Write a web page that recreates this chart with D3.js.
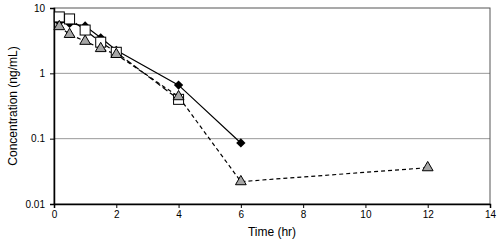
<!DOCTYPE html>
<html>
<head>
<meta charset="utf-8">
<script src="https://cdn.jsdelivr.net/npm/d3@7"></script>
<style>
body { margin: 0; background: #fff; }
text { font-family: "Liberation Sans", Arial, sans-serif; fill: #000; }
</style>
</head>
<body>
<svg id="chart" width="500" height="245"></svg>
<script>
// data
var diamondTimes = [0.17, 0.5, 1, 1.5, 2, 4, 6];
var diamondConc  = [6.1, 5.8, 5.3, 3.5, 2.25, 0.66, 0.086];
var squareTimes  = [0.17, 0.5, 1, 1.5, 2, 4];
var squareConc   = [7.3, 6.8, 4.6, 3.0, 2.1, 0.40];
var triTimes     = [0.17, 0.5, 1, 1.5, 2, 4, 6, 12];
var triConc      = [5.2, 3.95, 3.1, 2.4, 1.95, 0.44, 0.022, 0.036];
var xTicks = [0, 2, 4, 6, 8, 10, 12, 14];
var yTicks = [0.01, 0.1, 1, 10];

var margin = { left: 54, top: 8, right: 10, bottom: 41 };
var width = 500 - margin.left - margin.right;
var height = 245 - margin.top - margin.bottom;

var svg = d3.select("#chart");
var g = svg.append("g")
	.attr("transform", "translate(" + margin.left + "," + margin.top + ")");

var x = d3.scaleLinear().domain([0, 14]).range([0, width]);
var y = d3.scaleLog().domain([0.01, 10]).range([height, 0]);

// gridlines
g.selectAll("line.grid")
	.data([0.1, 1])
	.enter().append("line")
	.attr("class", "grid")
	.attr("x1", 0).attr("x2", width)
	.attr("y1", function(d) { return y(d) })
	.attr("y2", function(d) { return y(d) })
	.attr("stroke", "#999")
	.attr("stroke-width", 1);

// plot frame
g.append("rect")
	.attr("x", 0).attr("y", 0)
	.attr("width", width).attr("height", height)
	.attr("fill", "none")
	.attr("stroke", "#555")
	.attr("stroke-width", 1);

var yAxis = d3.axisLeft(y).tickValues(yTicks).tickFormat(function(d) { return String(d) }).tickSize(4).tickPadding(5);
var xAxis = d3.axisBottom(x).tickValues(xTicks).tickFormat(d3.format("d")).tickSize(4).tickPadding(3);

var gy = g.append("g").call(yAxis);
var gx = g.append("g").attr("transform", "translate(0," + height + ")").call(xAxis);
[gy, gx].forEach(function(a) {
	a.selectAll(".domain").attr("stroke", "#000").attr("stroke-width", 1.5);
	a.selectAll(".tick line").attr("stroke", "#000");
	a.selectAll(".tick text").attr("font-size", 10);
});

function series(times, conc) {
	return times.map(function(t, i) { return [t, conc[i]] });
}

var line = d3.line()
	.x(function(d) { return x(d[0]) })
	.y(function(d) { return y(d[1]) });

var diamonds = series(diamondTimes, diamondConc);
var squares = series(squareTimes, squareConc);
var tris = series(triTimes, triConc);

g.append("path").datum(diamonds).attr("d", line)
	.attr("fill", "none").attr("stroke", "#000").attr("stroke-width", 1.2);
g.append("path").datum(squares).attr("d", line)
	.attr("fill", "none").attr("stroke", "#000").attr("stroke-width", 1.2)
	.attr("stroke-dasharray", "6,3");
g.append("path").datum(tris).attr("d", line)
	.attr("fill", "none").attr("stroke", "#000").attr("stroke-width", 1.2)
	.attr("stroke-dasharray", "4,3");

g.selectAll("path.diamond")
	.data(diamonds).enter().append("path")
	.attr("class", "diamond")
	.attr("d", d3.symbol().type(d3.symbolDiamond2).size(55))
	.attr("transform", function(d) { return "translate(" + x(d[0]) + "," + y(d[1]) + ")" })
	.attr("fill", "#000");

g.selectAll("rect.square")
	.data(squares).enter().append("rect")
	.attr("class", "square")
	.attr("x", function(d) { return x(d[0]) - 5 })
	.attr("y", function(d) { return y(d[1]) - 5 })
	.attr("width", 10).attr("height", 10)
	.attr("fill", "#fff").attr("stroke", "#000").attr("stroke-width", 1);

g.selectAll("path.tri")
	.data(tris).enter().append("path")
	.attr("class", "tri")
	.attr("d", d3.symbol().type(d3.symbolTriangle).size(50))
	.attr("transform", function(d) { return "translate(" + x(d[0]) + "," + y(d[1]) + ")" })
	.attr("fill", "#a6a6a6").attr("stroke", "#000").attr("stroke-width", 1);

// axis titles
svg.append("text")
	.attr("x", margin.left + width / 2).attr("y", 236)
	.attr("text-anchor", "middle").attr("font-size", 12)
	.text("Time (hr)");

svg.append("text")
	.attr("transform", "translate(17," + (margin.top + height / 2) + ") rotate(-90)")
	.attr("text-anchor", "middle").attr("font-size", 12)
	.text("Concentration (ng/mL)");
</script>
</body>
</html>
